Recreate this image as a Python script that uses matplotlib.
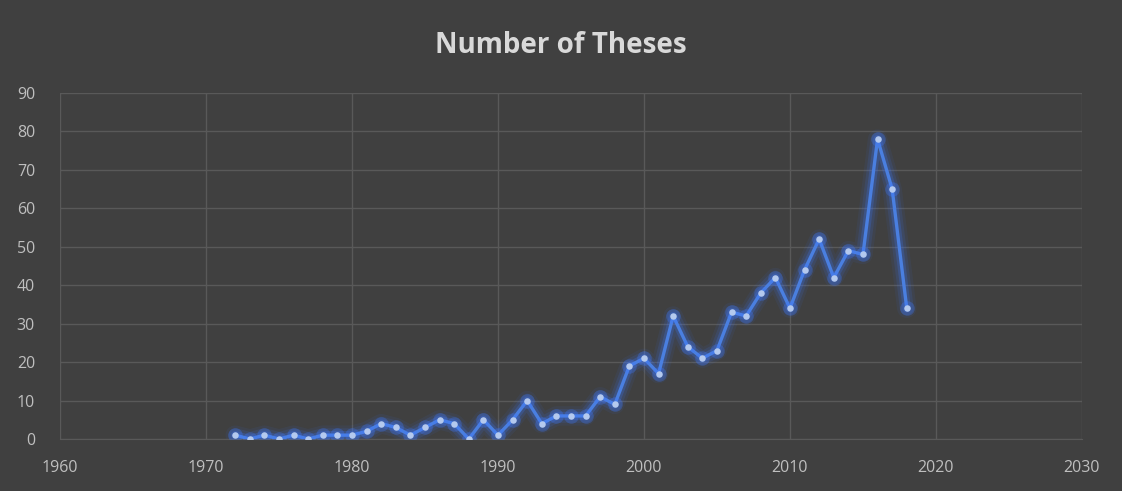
import matplotlib.pyplot as plt

# Data
years = list(range(1972, 2019))
theses = [1, 0, 1, 0, 1, 0, 1, 1, 1, 2, 4, 3, 1, 3, 5, 4, 0, 5, 1, 5,
          10, 4, 6, 6, 6, 11, 9, 19, 21, 17, 32, 24, 21, 23, 33, 32, 38, 42,
          34, 44, 52, 42, 49, 48, 78, 65, 34]
x_ticks = [1960, 1970, 1980, 1990, 2000, 2010, 2020, 2030]
y_ticks = [0, 10, 20, 30, 40, 50, 60, 70, 80, 90]

bg = '#404040'
fig = plt.figure(figsize=(11.22, 4.91), dpi=100, facecolor=bg)
ax = fig.add_axes([0.0535, 0.1059, 0.9108, 0.7047], facecolor=bg)

# glow layers under the line
for lw, a in [(14, 0.07), (10, 0.12), (6, 0.22)]:
    ax.plot(years, theses, color='#3d78ff', lw=lw, alpha=a,
            solid_capstyle='round', solid_joinstyle='round')
ax.plot(years, theses, color='#4a7fe0', lw=2.4, zorder=3)
ax.scatter(years, theses, s=110, color='#3d78ff', alpha=0.3, zorder=4, lw=0)
ax.scatter(years, theses, s=22, color='#b4c9ee', zorder=5, lw=0)

ax.set_xlim(1960, 2030)
ax.set_ylim(0, 90)
ax.set_xticks(x_ticks)
ax.set_yticks(y_ticks)
ax.grid(True, color='#595959', lw=1)
ax.set_axisbelow(True)
for s in ax.spines.values():
    s.set_visible(False)
ax.spines['bottom'].set_visible(True)
ax.spines['bottom'].set_color('#595959')
ax.tick_params(length=0, colors='#bfbfbf', labelsize=11.5)
ax.tick_params(axis='x', pad=15)
ax.tick_params(axis='y', pad=18)
for lab in ax.get_xticklabels() + ax.get_yticklabels():
    lab.set_fontfamily('Open Sans')

fig.text(0.5, 0.908, 'Number of Theses', ha='center', va='center',
         color='#d9d9d9', fontsize=20, fontweight='bold', family='Open Sans')

fig.savefig('out.png', dpi=100, facecolor=bg)
